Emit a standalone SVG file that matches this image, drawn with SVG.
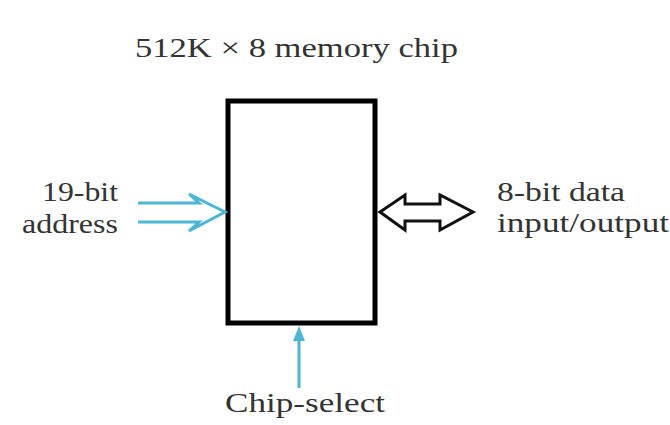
<svg xmlns="http://www.w3.org/2000/svg" width="670" height="425" viewBox="0 0 670 425">
<style>
  .t { font-family: "Liberation Serif", "Times New Roman", serif; font-size: 27px; fill: #333; }
  .blue { fill: none; stroke: #4bb6d6; stroke-width: 3; stroke-linejoin: miter; }
</style>
<rect width="670" height="425" fill="#fff"/>
<g id="title">
  <text class="t" x="135" y="57" textLength="323" lengthAdjust="spacingAndGlyphs">512K × 8 memory chip</text>
</g>
<g id="chip">
  <rect x="228" y="101" width="147" height="222" fill="#fff" stroke="#000" stroke-width="5"/>
</g>
<g id="address">
  <text class="t" x="42" y="201" textLength="76" lengthAdjust="spacingAndGlyphs">19-bit</text>
  <text class="t" x="22" y="233" textLength="96" lengthAdjust="spacingAndGlyphs">address</text>
</g>
<g id="data">
  <text class="t" x="497" y="201" textLength="128" lengthAdjust="spacingAndGlyphs">8-bit data</text>
  <text class="t" x="497" y="232" textLength="172" lengthAdjust="spacingAndGlyphs">input/output</text>
</g>
<g id="chipselect">
  <text class="t" x="225" y="412" textLength="160" lengthAdjust="spacingAndGlyphs">Chip-select</text>
</g>
<g id="connectors">
  <polyline class="blue" points="138,203 199,203 189,194 225,212 189,231 199,222 138,222"/>
  <polygon points="380,212 405,195 405,204 440,204 440,195 473,212 440,230 440,221 405,221 405,230" fill="#fff" stroke="#111" stroke-width="3" stroke-linejoin="miter"/>
  <line x1="299" y1="388" x2="299" y2="338" stroke="#4bb6d6" stroke-width="3"/>
  <polygon points="299,326 293,341 305,341" fill="#4bb6d6"/>
</g>
</svg>
